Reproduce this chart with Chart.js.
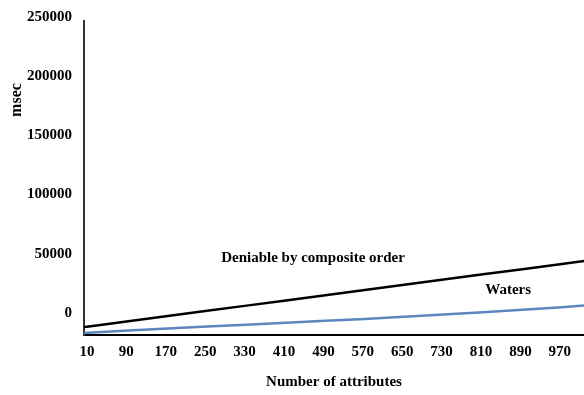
<!DOCTYPE html>
<html>
<head>
<meta charset="utf-8">
<script src="https://cdn.jsdelivr.net/npm/chart.js@4"></script>
<style>
  html, body { margin: 0; padding: 0; background: #fff; }
  #wrap { width: 584px; height: 395px; position: relative; }
</style>
</head>
<body>
<div id="wrap"><canvas id="c"></canvas></div>
<script>
// ---- data ----
const attributeTicks = [10, 90, 170, 250, 330, 410, 490, 570, 650, 730, 810, 890, 970];
const samplePoints   = [0, 10, 90, 170, 250, 330, 410, 490, 570, 650, 730, 810, 890, 970, 1015];
const deniableMs     = [6700, 7200, 11600, 16000, 20400, 24800, 29200, 33600, 37900, 42400, 46800, 51200, 55500, 59900, 62400];
const watersMs       = [1700, 1900, 3700, 5400, 7100, 8700, 10400, 12000, 13600, 15300, 17200, 19300, 21300, 23400, 24800];
const yTickValues    = [0, 50000, 100000, 150000, 200000, 250000];
const seriesNames    = ['Deniable by composite order', 'Waters'];
const xTitle = 'Number of attributes';
const yTitle = 'msec';

const FONT = '"Liberation Serif", "Times New Roman", serif';

const toXY = (vals) => samplePoints.map((x, i) => ({ x: x, y: vals[i] }));

const inlineLabels = {
  id: 'inlineLabels',
  afterDatasetsDraw(chart, args, opts) {
    const { ctx, scales: { x, y } } = chart;
    ctx.save();
    ctx.fillStyle = '#000';
    ctx.font = 'bold 15px ' + FONT;
    ctx.textAlign = 'center';
    ctx.textBaseline = 'middle';
    opts.items.forEach(it => {
      ctx.fillText(it.text, x.getPixelForValue(it.x), y.getPixelForValue(it.y));
    });
    // rotated y title
    ctx.font = 'bold 16px ' + FONT;
    ctx.translate(opts.yTitleX, opts.yTitleY);
    ctx.rotate(-Math.PI / 2);
    ctx.fillText(yTitle, 0, 0);
    ctx.restore();
  }
};

new Chart(document.getElementById('c'), {
  type: 'line',
  data: {
    datasets: [
      { label: seriesNames[0], data: toXY(deniableMs), borderColor: '#000000', borderWidth: 2.5, pointRadius: 0, tension: 0 },
      { label: seriesNames[1], data: toXY(watersMs), borderColor: '#5b86c0', borderWidth: 2.5, pointRadius: 0, tension: 0 }
    ]
  },
  options: {
    responsive: true,
    maintainAspectRatio: false,
    animation: false,
    layout: { padding: { top: 17, right: 0, left: 0, bottom: 0 } },
    plugins: {
      legend: { display: false },
      tooltip: { enabled: false },
      inlineLabels: {
        items: [
          { text: seriesNames[0], x: 465, y: 65000 },
          { text: seriesNames[1], x: 861, y: 37500 }
        ],
        yTitleX: 17, yTitleY: 100
      }
    },
    scales: {
      x: {
        type: 'linear',
        min: 0,
        max: 1015,
        afterBuildTicks: (s) => { s.ticks = attributeTicks.map(v => ({ value: v })); },
        afterFit: (s) => { s.height = 60; },
        grid: { display: false, drawTicks: false },
        border: { display: true, color: '#000', width: 2 },
        ticks: {
          autoSkip: false, maxRotation: 0, minRotation: 0,
          padding: 8, labelOffset: -2,
          color: '#000',
          font: { family: FONT, size: 15, weight: 'bold' },
          callback: (v) => String(v)
        },
        title: {
          display: true, text: xTitle, color: '#000',
          font: { family: FONT, size: 15, weight: 'bold' },
          padding: { top: 0, bottom: 4 }
        }
      },
      y: {
        type: 'linear',
        min: 0,
        max: 265000,
        afterBuildTicks: (s) => { s.ticks = yTickValues.map(v => ({ value: v })); },
        afterFit: (s) => { s.width = 84; },
        grid: { display: false, drawTicks: false },
        border: { display: true, color: '#333', width: 2 },
        ticks: {
          padding: 12, labelOffset: -22,
          color: '#000',
          font: { family: FONT, size: 15, weight: 'bold' },
          callback: (v) => String(v)
        }
      }
    }
  },
  plugins: [inlineLabels]
});
</script>
</body>
</html>
